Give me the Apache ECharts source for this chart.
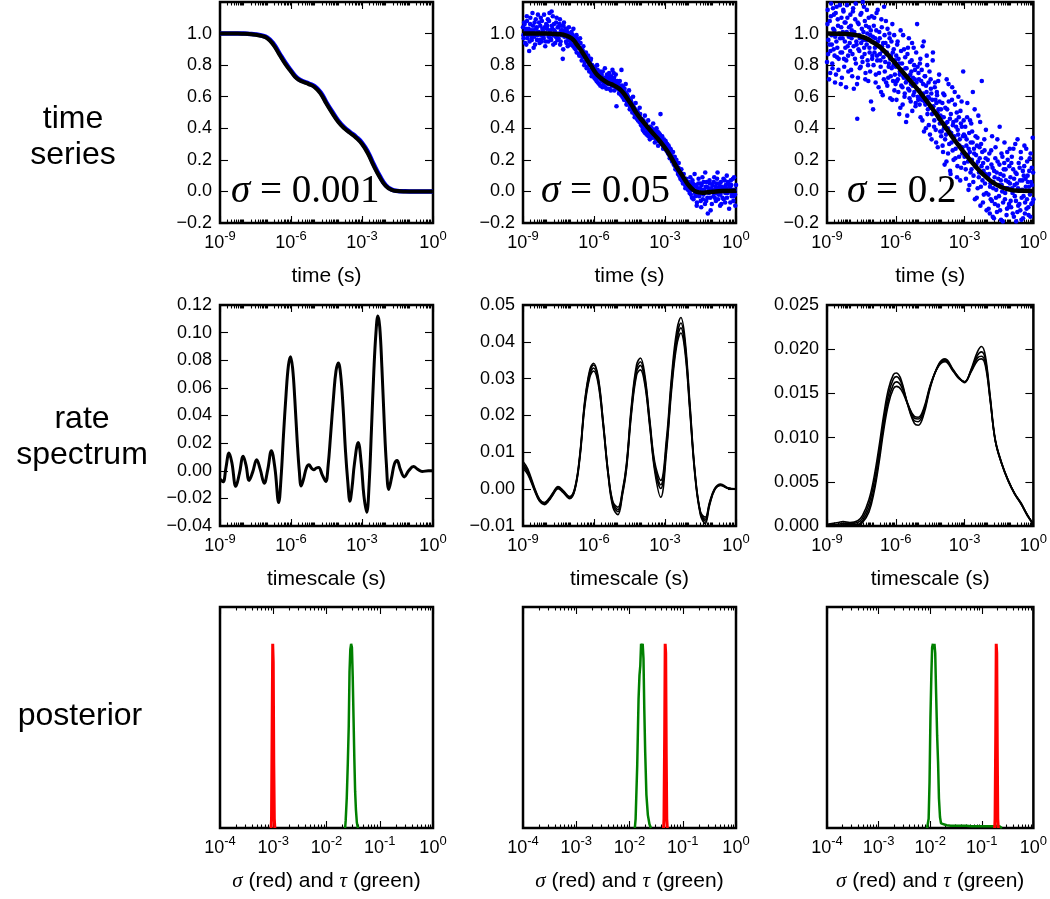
<!DOCTYPE html>
<html><head><meta charset="utf-8">
<script src="https://cdn.jsdelivr.net/npm/echarts@6/dist/echarts.min.js"></script>
<style>html,body{margin:0;padding:0;background:#fff}#c{width:1050px;height:899px}</style>
</head><body><div id="c"></div>
<script>
// ================= DATA =================
const rowLabels = ['time\nseries', 'rate\nspectrum', 'posterior'];
const sigmaLabels = ['0.001', '0.05', '0.2'];
const xNames = ['time (s)', 'timescale (s)', '{i|σ} (red) and {i|τ} (green)'];
const tsMajorExp = [-9, -6, -3, 0];          // labelled decades, rows 1-2
const postMajorExp = [-4, -3, -2, -1, 0];    // labelled decades, row 3
const yTS = {min: -0.2, max: 1.2, step: 0.2, dec: 1, hideAbove: 1.1};
const ySpec = [
  {min: -0.04, max: 0.12, step: 0.02, dec: 2},
  {min: -0.01, max: 0.05, step: 0.01, dec: 2},
  {min: 0, max: 0.025, step: 0.005, dec: 3}
];
const yPost = {min: 0, max: 1.2};

// time series: exponent grid (log10 s) and curves
const tsGrid = [-9,-8.75,-8.5,-8.25,-8,-7.75,-7.5,-7.25,-7,-6.75,-6.5,-6.25,-6,-5.75,-5.5,-5.25,-5,-4.75,-4.5,-4.25,-4,-3.75,-3.5,-3.25,-3,-2.75,-2.5,-2.25,-2,-1.75,-1.5,-1.25,-1,-0.75,-0.5,-0.25,0];
const data001 = [1.0,1.0,1.0,1.0,1.0,0.998,0.995,0.988,0.975,0.938,0.878,0.818,0.766,0.72,0.698,0.684,0.666,0.628,0.563,0.503,0.447,0.405,0.375,0.346,0.308,0.25,0.17,0.098,0.04,0.012,0.003,0.001,0,0,0,0,0];
const fit001 = [1.0,1.0,1.0,1.0,0.999,0.997,0.993,0.985,0.97,0.93,0.87,0.81,0.76,0.715,0.695,0.68,0.66,0.62,0.555,0.495,0.44,0.40,0.37,0.34,0.30,0.24,0.16,0.09,0.035,0.01,0.002,0,0,0,0,0,0];
const fit005 = [[-9,1.0],[-8.5,1.0],[-8,1.0],[-7.5,0.996],[-7.24,0.99],[-6.95,0.97],[-6.75,0.935],[-6.53,0.89],[-6.3,0.835],[-6.1,0.79],[-5.9,0.745],[-5.68,0.714],[-5.45,0.69],[-5.25,0.678],[-5.05,0.662],[-4.82,0.635],[-4.6,0.59],[-4.4,0.545],[-4.2,0.495],[-3.97,0.45],[-3.75,0.41],[-3.55,0.375],[-3.35,0.342],[-3.12,0.30],[-2.9,0.255],[-2.7,0.205],[-2.5,0.152],[-2.27,0.10],[-2.1,0.06],[-1.98,0.036],[-1.85,0.015],[-1.7,0.0],[-1.55,-0.006],[-1.41,-0.008],[-1.2,-0.005],[-0.99,-0.002],[-0.6,0.002],[0,0.004]];
const fit02 = [[-9,1.0],[-8.5,0.999],[-8,0.996],[-7.6,0.985],[-7.26,0.968],[-7.0,0.945],[-6.69,0.915],[-6.26,0.852],[-5.7,0.756],[-5.13,0.661],[-4.56,0.555],[-3.99,0.439],[-3.42,0.322],[-2.85,0.216],[-2.28,0.121],[-1.71,0.051],[-1.14,0.015],[-0.57,0.004],[0,0.003]];

// noisy samples, sigma = 0.05 (log10 t, value)
const pts005a = [[-9.00,1.04],[-8.97,0.97],[-8.93,1.06],[-8.90,1.01],[-8.86,0.93],[-8.83,1.08],[-8.79,0.99],[-8.76,1.03],[-8.72,0.95],[-8.69,1.10],[-8.65,1.02],[-8.62,0.98],[-8.58,1.05],[-8.55,0.91],[-8.51,1.07],[-8.48,1.00],[-8.44,1.03],[-8.41,0.96],[-8.37,1.12],[-8.34,1.01],[-8.30,0.94],[-8.27,1.05],[-8.23,0.99],[-8.20,1.08],[-8.16,1.02],[-8.13,0.97],[-8.09,1.04],[-8.06,0.92],[-8.02,1.06],
[-7.99,1.03],[-7.95,1.09],[-7.92,0.98],[-7.88,1.13],[-7.85,1.01],[-7.81,0.96],[-7.78,1.05],[-7.74,1.11],[-7.71,0.99],[-7.67,1.02],[-7.64,0.94],[-7.60,1.07],[-7.57,1.00],[-7.53,1.04],[-7.50,0.97],[-7.46,1.06],[-7.43,0.93],[-7.39,1.02],[-7.36,0.99],[-7.32,0.84],[-7.29,1.05],[-7.25,0.98],[-7.22,1.01],[-7.18,0.95],[-7.15,1.03],[-7.11,0.92],[-7.08,0.99],[-7.04,0.96],[-7.01,1.00],
[-6.97,1.00],[-6.94,0.93],[-6.90,0.99],[-6.87,1.03],[-6.83,0.91],[-6.80,0.96],[-6.76,0.98],[-6.73,0.88],[-6.69,0.95],[-6.66,0.92],[-6.62,0.86],[-6.59,0.97],[-6.55,0.90],[-6.52,0.83],[-6.48,0.89],[-6.45,0.92],[-6.41,0.80],[-6.38,0.86],[-6.34,0.88],[-6.31,0.78],[-6.27,0.83],[-6.24,0.85],[-6.20,0.76],[-6.17,0.81],[-6.13,0.84],[-6.10,0.73],[-6.06,0.79],[-6.03,0.77],
[-5.99,0.72],[-5.96,0.79],[-5.92,0.75],[-5.89,0.70],[-5.85,0.77],[-5.82,0.73],[-5.78,0.68],[-5.75,0.76],[-5.71,0.71],[-5.68,0.74],[-5.64,0.66],[-5.61,0.72],[-5.57,0.69],[-5.54,0.78],[-5.50,0.70],[-5.47,0.65],[-5.43,0.73],[-5.40,0.68],[-5.36,0.75],[-5.33,0.71],[-5.29,0.64],[-5.26,0.70],[-5.22,0.77],[-5.19,0.67],[-5.15,0.72],[-5.12,0.69],[-5.08,0.74],[-5.05,0.54],[-5.01,0.70],
[-4.98,0.67],[-4.94,0.62],[-4.91,0.70],[-4.87,0.64],[-4.84,0.77],[-4.80,0.60],[-4.77,0.66],[-4.73,0.58],[-4.70,0.63],[-4.66,0.68],[-4.63,0.55],[-4.59,0.61],[-4.56,0.57],[-4.52,0.64],[-4.49,0.52],[-4.45,0.58],[-4.42,0.55],[-4.38,0.50],[-4.35,0.60],[-4.31,0.53],[-4.28,0.47],[-4.24,0.56],[-4.21,0.49],[-4.17,0.51],[-4.14,0.45],[-4.10,0.48],[-4.07,0.53],[-4.03,0.43],
[-3.99,0.46],[-3.96,0.41],[-3.92,0.44],[-3.89,0.38],[-3.85,0.48],[-3.82,0.42],[-3.78,0.36],[-3.75,0.40],[-3.71,0.45],[-3.68,0.37],[-3.64,0.33],[-3.61,0.41],[-3.57,0.39],[-3.54,0.35],[-3.50,0.43],[-3.47,0.36],[-3.43,0.31],[-3.40,0.38],[-3.36,0.40],[-3.33,0.34],[-3.29,0.29],[-3.26,0.37],[-3.22,0.33],[-3.19,0.49],[-3.15,0.31],[-3.12,0.35],[-3.08,0.27],[-3.05,0.33],[-3.01,0.30],
[-2.98,0.32],[-2.94,0.26],[-2.91,0.30],[-2.87,0.24],[-2.84,0.28],[-2.80,0.21],[-2.77,0.27],[-2.73,0.23],[-2.70,0.19],[-2.66,0.25],[-2.63,0.17],[-2.59,0.22],[-2.56,0.14],[-2.52,0.20],[-2.49,0.15],[-2.45,0.11],[-2.42,0.18],[-2.38,0.12],[-2.35,0.08],[-2.31,0.14],[-2.28,0.09],[-2.24,0.05],[-2.21,0.11],[-2.17,0.07],[-2.14,0.02],[-2.10,0.08],[-2.07,0.04],[-2.03,0.01],
[-2.00,0.06],[-1.96,-0.01],[-1.93,0.09],[-1.89,0.03],[-1.86,-0.04],[-1.82,0.05],[-1.79,0.01],[-1.75,0.11],[-1.72,-0.03],[-1.68,0.04],[-1.65,-0.07],[-1.61,0.02],[-1.58,0.08],[-1.54,-0.02],[-1.51,0.05],[-1.47,-0.10],[-1.44,0.01],[-1.40,-0.05],[-1.37,0.06],[-1.33,-0.01],[-1.30,0.12],[-1.26,-0.06],[-1.23,0.03],[-1.19,-0.14],[-1.16,0.00],[-1.12,0.07],[-1.09,-0.04],[-1.05,0.02],[-1.02,-0.08],
[-0.99,0.04],[-0.95,-0.03],[-0.92,0.09],[-0.88,0.01],[-0.85,-0.06],[-0.81,0.05],[-0.78,0.12],[-0.74,-0.02],[-0.71,0.03],[-0.67,-0.09],[-0.64,0.06],[-0.60,0.00],[-0.57,-0.04],[-0.53,0.08],[-0.50,0.02],[-0.46,-0.07],[-0.43,0.04],[-0.39,0.10],[-0.36,-0.01],[-0.32,0.05],[-0.29,-0.11],[-0.25,0.03],[-0.22,0.07],[-0.18,-0.03],[-0.15,0.01],[-0.11,-0.06],[-0.08,0.09],[-0.04,-0.02],[0.00,0.04]];
const pts005b = [[-8.98,0.99],[-8.95,1.07],[-8.91,0.94],[-8.88,1.03],[-8.84,1.11],[-8.81,0.97],[-8.77,1.01],[-8.74,0.89],[-8.70,1.06],[-8.67,1.00],[-8.63,0.96],[-8.60,1.13],[-8.56,1.02],[-8.53,0.98],[-8.49,0.93],[-8.46,1.09],[-8.42,1.04],[-8.39,0.99],[-8.35,1.01],[-8.32,1.07],[-8.28,0.96],[-8.25,1.10],[-8.21,0.95],[-8.18,1.03],[-8.14,0.98],[-8.11,1.12],[-8.07,1.00],[-8.04,0.95],
[-8.00,1.00],[-7.97,1.05],[-7.93,0.95],[-7.90,1.08],[-7.86,1.02],[-7.83,0.97],[-7.79,1.14],[-7.76,1.03],[-7.72,0.93],[-7.69,1.06],[-7.65,1.01],[-7.62,0.98],[-7.58,1.10],[-7.55,0.96],[-7.51,1.04],[-7.48,1.00],[-7.44,1.09],[-7.41,0.95],[-7.37,1.05],[-7.34,1.02],[-7.30,0.90],[-7.27,1.07],[-7.23,0.99],[-7.20,1.03],[-7.16,0.94],[-7.13,1.01],[-7.09,0.97],[-7.06,1.04],[-7.02,0.93],
[-6.99,0.95],[-6.95,1.01],[-6.92,0.97],[-6.88,0.92],[-6.85,0.98],[-6.81,0.95],[-6.78,0.90],[-6.74,0.99],[-6.71,0.93],[-6.67,0.96],[-6.64,0.87],[-6.60,0.91],[-6.57,0.94],[-6.53,0.86],[-6.50,0.90],[-6.46,0.85],[-6.43,0.88],[-6.39,0.82],[-6.36,0.87],[-6.32,0.84],[-6.29,0.79],[-6.25,0.86],[-6.22,0.81],[-6.18,0.77],[-6.15,0.83],[-6.11,0.75],[-6.08,0.80],[-6.04,0.78],[-6.01,0.74],
[-5.98,0.76],[-5.94,0.71],[-5.91,0.74],[-5.87,0.80],[-5.84,0.69],[-5.80,0.72],[-5.77,0.75],[-5.73,0.67],[-5.70,0.73],[-5.66,0.70],[-5.63,0.76],[-5.59,0.68],[-5.56,0.72],[-5.52,0.66],[-5.49,0.71],[-5.45,0.74],[-5.42,0.69],[-5.38,0.72],[-5.35,0.65],[-5.31,0.70],[-5.28,0.73],[-5.24,0.67],[-5.21,0.71],[-5.17,0.75],[-5.14,0.64],[-5.10,0.70],[-5.07,0.66],[-5.03,0.68],
[-4.99,0.65],[-4.96,0.69],[-4.92,0.63],[-4.89,0.66],[-4.85,0.61],[-4.82,0.67],[-4.78,0.64],[-4.75,0.59],[-4.71,0.65],[-4.68,0.60],[-4.64,0.62],[-4.61,0.57],[-4.57,0.60],[-4.54,0.55],[-4.50,0.59],[-4.47,0.53],[-4.43,0.57],[-4.40,0.54],[-4.36,0.51],[-4.33,0.55],[-4.29,0.49],[-4.26,0.52],[-4.22,0.50],[-4.19,0.46],[-4.15,0.50],[-4.12,0.47],[-4.08,0.44],[-4.05,0.49],[-4.01,0.42],
[-3.98,0.43],[-3.94,0.39],[-3.91,0.45],[-3.87,0.41],[-3.84,0.37],[-3.80,0.43],[-3.77,0.40],[-3.73,0.38],[-3.70,0.35],[-3.66,0.41],[-3.63,0.38],[-3.59,0.36],[-3.56,0.40],[-3.52,0.34],[-3.49,0.37],[-3.45,0.39],[-3.42,0.35],[-3.38,0.33],[-3.35,0.36],[-3.31,0.38],[-3.28,0.32],[-3.24,0.34],[-3.21,0.36],[-3.17,0.30],[-3.14,0.34],[-3.10,0.31],[-3.07,0.29],[-3.03,0.32],
[-2.99,0.28],[-2.96,0.31],[-2.92,0.27],[-2.89,0.25],[-2.85,0.29],[-2.82,0.23],[-2.78,0.25],[-2.75,0.26],[-2.71,0.20],[-2.68,0.22],[-2.64,0.19],[-2.61,0.21],[-2.57,0.16],[-2.54,0.18],[-2.50,0.17],[-2.47,0.13],[-2.43,0.15],[-2.40,0.10],[-2.36,0.13],[-2.33,0.11],[-2.29,0.07],[-2.26,0.10],[-2.22,0.06],[-2.19,0.08],[-2.15,0.04],[-2.12,0.06],[-2.08,0.03],[-2.05,0.05],[-2.01,0.02],
[-1.98,0.02],[-1.94,0.05],[-1.91,-0.02],[-1.87,0.01],[-1.84,0.07],[-1.80,-0.05],[-1.77,0.03],[-1.73,-0.01],[-1.70,0.04],[-1.66,-0.09],[-1.63,0.00],[-1.59,0.05],[-1.56,-0.03],[-1.52,0.02],[-1.49,-0.06],[-1.45,0.04],[-1.42,0.09],[-1.38,-0.02],[-1.35,0.01],[-1.31,-0.08],[-1.28,0.03],[-1.24,0.06],[-1.21,-0.04],[-1.17,0.02],[-1.14,-0.01],[-1.10,0.05],[-1.07,-0.12],[-1.03,0.01],
[-0.97,0.00],[-0.94,0.06],[-0.90,-0.04],[-0.87,0.03],[-0.83,-0.01],[-0.80,0.08],[-0.76,-0.05],[-0.73,0.02],[-0.69,0.05],[-0.66,-0.02],[-0.62,-0.08],[-0.59,0.03],[-0.55,0.01],[-0.52,-0.05],[-0.48,0.07],[-0.45,-0.01],[-0.41,0.02],[-0.38,-0.04],[-0.34,0.06],[-0.31,0.00],[-0.27,0.03],[-0.24,-0.07],[-0.20,0.04],[-0.17,-0.02],[-0.13,0.08],[-0.10,-0.03],[-0.06,0.01],[-0.03,-0.09]];

// noisy samples, sigma = 0.2 (log10 t, value)
const pts02a = [[-9.00,0.82],[-8.97,1.15],[-8.94,0.96],[-8.91,0.71],[-8.88,1.08],[-8.85,0.89],[-8.82,1.19],[-8.79,0.93],[-8.76,0.78],[-8.73,1.03],[-8.70,1.12],[-8.67,0.86],[-8.64,0.98],[-8.61,0.74],[-8.58,1.17],[-8.55,0.91],[-8.52,1.05],[-8.49,0.84],[-8.46,1.25],[-8.43,0.97],[-8.40,0.68],[-8.37,1.10],[-8.34,0.88],[-8.31,1.01],[-8.28,1.14],[-8.25,0.79],[-8.22,0.95],[-8.19,1.07],[-8.16,0.83],[-8.13,1.18],[-8.10,0.92],[-8.07,0.76],[-8.04,1.04],
[-8.01,0.94],[-7.98,1.12],[-7.95,0.77],[-7.92,1.02],[-7.89,0.87],[-7.86,1.16],[-7.83,0.65],[-7.80,0.99],[-7.77,1.09],[-7.74,0.81],[-7.71,0.93],[-7.68,0.46],[-7.65,0.72],[-7.62,1.06],[-7.59,0.89],[-7.56,0.97],[-7.53,0.79],[-7.50,1.13],[-7.47,0.85],[-7.44,1.20],[-7.41,1.01],[-7.38,0.91],[-7.35,1.08],[-7.32,0.75],[-7.29,0.96],[-7.26,1.15],[-7.23,0.83],[-7.20,0.70],[-7.17,1.04],[-7.14,0.88],[-7.11,0.99],[-7.08,0.57],[-7.05,1.11],[-7.02,0.86],
[-6.99,0.52],[-6.96,1.05],[-6.93,0.88],[-6.90,0.97],[-6.87,0.74],[-6.84,1.13],[-6.81,0.83],[-6.78,0.95],[-6.75,0.66],[-6.72,1.01],[-6.69,0.87],[-6.66,0.79],[-6.63,1.09],[-6.60,0.92],[-6.57,0.61],[-6.54,0.85],[-6.51,1.17],[-6.48,0.76],[-6.45,0.94],[-6.42,0.69],[-6.39,0.88],[-6.36,1.03],[-6.33,0.72],[-6.30,0.81],[-6.27,0.97],[-6.24,0.59],[-6.21,0.86],[-6.18,0.78],[-6.15,1.06],[-6.12,0.70],[-6.09,0.90],[-6.06,0.64],[-6.03,0.83],
[-6.00,0.79],[-5.97,0.58],[-5.94,0.93],[-5.91,0.71],[-5.88,0.84],[-5.85,0.49],[-5.82,0.76],[-5.79,1.02],[-5.76,0.67],[-5.73,0.81],[-5.70,0.55],[-5.67,0.73],[-5.64,0.90],[-5.61,0.62],[-5.58,0.78],[-5.55,0.44],[-5.52,0.70],[-5.49,0.87],[-5.46,0.65],[-5.43,0.97],[-5.40,0.59],[-5.37,0.74],[-5.34,0.68],[-5.31,0.83],[-5.28,0.51],[-5.25,0.72],[-5.22,0.91],[-5.19,0.63],[-5.16,0.77],[-5.13,0.56],[-5.10,0.69],[-5.07,1.06],[-5.04,0.60],[-5.01,0.75],
[-4.98,0.64],[-4.95,0.81],[-4.92,0.47],[-4.89,0.70],[-4.86,0.58],[-4.83,0.92],[-4.80,0.62],[-4.77,0.38],[-4.74,0.73],[-4.71,0.55],[-4.68,0.67],[-4.65,0.86],[-4.62,0.49],[-4.59,0.60],[-4.56,0.42],[-4.53,0.76],[-4.50,0.53],[-4.47,0.65],[-4.44,0.33],[-4.41,0.58],[-4.38,0.88],[-4.35,0.50],[-4.32,0.45],[-4.29,0.69],[-4.26,0.39],[-4.23,0.56],[-4.20,0.61],[-4.17,0.28],[-4.14,0.52],[-4.11,0.74],[-4.08,0.43],[-4.05,0.48],[-4.02,0.35],
[-3.99,0.47],[-3.96,0.29],[-3.93,0.62],[-3.90,0.40],[-3.87,0.17],[-3.84,0.53],[-3.81,0.36],[-3.78,0.71],[-3.75,0.44],[-3.72,0.24],[-3.69,0.57],[-3.66,0.38],[-3.63,0.13],[-3.60,0.49],[-3.57,0.31],[-3.54,0.66],[-3.51,0.42],[-3.48,0.20],[-3.45,0.35],[-3.42,0.55],[-3.39,0.27],[-3.36,0.45],[-3.33,0.09],[-3.30,0.39],[-3.27,0.60],[-3.24,0.22],[-3.21,0.33],[-3.18,0.51],[-3.15,0.15],[-3.12,0.41],[-3.09,0.28],[-3.06,0.76],[-3.03,0.36],
[-3.00,0.22],[-2.97,0.41],[-2.94,0.08],[-2.91,0.33],[-2.88,0.56],[-2.85,0.19],[-2.82,0.27],[-2.79,0.04],[-2.76,0.45],[-2.73,0.31],[-2.70,0.14],[-2.67,0.38],[-2.64,0.63],[-2.61,0.10],[-2.58,0.24],[-2.55,-0.05],[-2.52,0.35],[-2.49,0.17],[-2.46,0.29],[-2.43,0.02],[-2.40,0.48],[-2.37,0.12],[-2.34,0.21],[-2.31,-0.09],[-2.28,0.30],[-2.25,0.70],[-2.22,0.07],[-2.19,0.18],[-2.16,-0.02],[-2.13,0.26],[-2.10,0.11],[-2.07,0.39],[-2.04,-0.12],[-2.01,0.15],
[-1.98,0.09],[-1.95,-0.11],[-1.92,0.24],[-1.89,0.03],[-1.86,-0.05],[-1.83,0.17],[-1.80,0.35],[-1.77,-0.16],[-1.74,0.06],[-1.71,0.13],[-1.68,-0.08],[-1.65,0.28],[-1.62,0.01],[-1.59,-0.13],[-1.56,0.19],[-1.53,0.08],[-1.50,-0.03],[-1.47,0.41],[-1.44,0.11],[-1.41,-0.18],[-1.38,0.04],[-1.35,0.22],[-1.32,-0.07],[-1.29,0.14],[-1.26,0.31],[-1.23,-0.01],[-1.20,0.07],[-1.17,-0.15],[-1.14,0.25],[-1.11,0.02],[-1.08,-0.10],[-1.05,0.16],[-1.02,0.05],
[-0.99,-0.06],[-0.96,0.18],[-0.93,0.02],[-0.90,-0.14],[-0.87,0.27],[-0.84,0.08],[-0.81,-0.03],[-0.78,0.12],[-0.75,-0.19],[-0.72,0.05],[-0.69,0.33],[-0.66,-0.09],[-0.63,0.01],[-0.60,0.15],[-0.57,-0.12],[-0.54,0.21],[-0.51,-0.04],[-0.48,0.07],[-0.45,-0.17],[-0.42,0.10],[-0.39,0.29],[-0.36,-0.07],[-0.33,0.03],[-0.30,-0.11],[-0.27,0.19],[-0.24,0.06],[-0.21,-0.15],[-0.18,0.13],[-0.15,-0.02],[-0.12,0.24],[-0.09,-0.08],[-0.06,0.04],[-0.03,0.34],[0.00,-0.05]];
const pts02b = [[-8.98,1.06],[-8.95,0.87],[-8.92,1.22],[-8.89,0.93],[-8.86,0.75],[-8.83,1.11],[-8.80,0.99],[-8.77,0.81],[-8.74,1.16],[-8.71,0.90],[-8.68,1.02],[-8.65,0.69],[-8.62,1.13],[-8.59,0.95],[-8.56,0.85],[-8.53,1.09],[-8.50,0.77],[-8.47,1.00],[-8.44,1.18],[-8.41,0.88],[-8.38,1.04],[-8.35,0.72],[-8.32,0.97],[-8.29,1.15],[-8.26,0.84],[-8.23,1.07],[-8.20,0.91],[-8.17,0.66],[-8.14,1.01],[-8.11,1.10],[-8.08,0.86],[-8.05,0.98],[-8.02,1.21],
[-7.99,0.89],[-7.96,1.05],[-7.93,0.97],[-7.90,0.73],[-7.87,1.14],[-7.84,0.92],[-7.81,1.01],[-7.78,0.84],[-7.75,1.19],[-7.72,0.95],[-7.69,0.68],[-7.66,1.07],[-7.63,0.90],[-7.60,0.99],[-7.57,0.78],[-7.54,1.12],[-7.51,0.94],[-7.48,1.03],[-7.45,0.82],[-7.42,0.96],[-7.39,1.17],[-7.36,0.87],[-7.33,0.71],[-7.30,1.05],[-7.27,0.93],[-7.24,1.00],[-7.21,0.80],[-7.18,1.10],[-7.15,0.91],[-7.12,0.76],[-7.09,1.02],[-7.06,0.95],[-7.03,0.84],
[-7.00,0.98],[-6.97,0.80],[-6.94,1.10],[-6.91,0.91],[-6.88,0.69],[-6.85,1.02],[-6.82,0.86],[-6.79,1.15],[-6.76,0.92],[-6.73,0.75],[-6.70,0.97],[-6.67,0.83],[-6.64,0.63],[-6.61,1.04],[-6.58,0.89],[-6.55,0.94],[-6.52,0.71],[-6.49,0.99],[-6.46,0.82],[-6.43,1.08],[-6.40,0.87],[-6.37,0.67],[-6.34,0.92],[-6.31,0.79],[-6.28,1.00],[-6.25,0.84],[-6.22,0.73],[-6.19,0.95],[-6.16,0.58],[-6.13,0.88],[-6.10,0.80],[-6.07,0.99],[-6.04,0.74],[-6.01,0.68],
[-5.98,0.86],[-5.95,0.70],[-5.92,0.95],[-5.89,0.63],[-5.86,0.81],[-5.83,0.74],[-5.80,0.53],[-5.77,0.89],[-5.74,0.77],[-5.71,0.66],[-5.68,0.99],[-5.65,0.72],[-5.62,0.60],[-5.59,0.85],[-5.56,0.69],[-5.53,0.78],[-5.50,0.48],[-5.47,0.91],[-5.44,0.73],[-5.41,0.64],[-5.38,0.82],[-5.35,0.57],[-5.32,0.76],[-5.29,0.94],[-5.26,0.67],[-5.23,0.61],[-5.20,0.80],[-5.17,0.71],[-5.14,0.54],[-5.11,0.88],[-5.08,0.65],[-5.05,0.79],[-5.02,0.58],
[-4.99,0.71],[-4.96,0.55],[-4.93,0.84],[-4.90,0.60],[-4.87,0.77],[-4.84,0.45],[-4.81,0.68],[-4.78,0.95],[-4.75,0.57],[-4.72,0.73],[-4.69,0.40],[-4.66,0.63],[-4.63,0.80],[-4.60,0.52],[-4.57,0.69],[-4.54,0.59],[-4.51,0.36],[-4.48,0.71],[-4.45,0.62],[-4.42,0.49],[-4.39,0.83],[-4.36,0.54],[-4.33,0.41],[-4.30,0.66],[-4.27,0.58],[-4.24,0.31],[-4.21,0.63],[-4.18,0.50],[-4.15,0.70],[-4.12,0.46],[-4.09,0.57],[-4.06,0.38],[-4.03,0.52],
[-4.00,0.38],[-3.97,0.56],[-3.94,0.25],[-3.91,0.47],[-3.88,0.61],[-3.85,0.33],[-3.82,0.43],[-3.79,0.19],[-3.76,0.52],[-3.73,0.40],[-3.70,0.68],[-3.67,0.30],[-3.64,0.46],[-3.61,0.11],[-3.58,0.37],[-3.55,0.58],[-3.52,0.26],[-3.49,0.44],[-3.46,0.34],[-3.43,0.63],[-3.40,0.21],[-3.37,0.41],[-3.34,0.50],[-3.31,0.16],[-3.28,0.36],[-3.25,0.47],[-3.22,0.29],[-3.19,0.07],[-3.16,0.43],[-3.13,0.57],[-3.10,0.24],[-3.07,0.35],[-3.04,0.45],[-3.01,0.18],
[-2.98,0.35],[-2.95,0.14],[-2.92,0.29],[-2.89,0.47],[-2.86,0.23],[-2.83,0.01],[-2.80,0.37],[-2.77,0.25],[-2.74,0.12],[-2.71,0.43],[-2.68,0.20],[-2.65,0.31],[-2.62,0.06],[-2.59,0.27],[-2.56,0.52],[-2.53,0.16],[-2.50,0.23],[-2.47,-0.04],[-2.44,0.34],[-2.41,0.19],[-2.38,0.09],[-2.35,0.28],[-2.32,0.44],[-2.29,0.03],[-2.26,0.16],[-2.23,0.25],[-2.20,-0.07],[-2.17,0.13],[-2.14,0.33],[-2.11,0.05],[-2.08,0.21],[-2.05,-0.01],[-2.02,0.10],
[-1.99,0.20],[-1.96,-0.02],[-1.93,0.11],[-1.90,-0.14],[-1.87,0.05],[-1.84,0.26],[-1.81,-0.06],[-1.78,0.15],[-1.75,0.02],[-1.72,-0.17],[-1.69,0.09],[-1.66,0.21],[-1.63,-0.04],[-1.60,0.12],[-1.57,0.33],[-1.54,-0.09],[-1.51,0.04],[-1.48,0.17],[-1.45,-0.12],[-1.42,0.07],[-1.39,0.24],[-1.36,0.00],[-1.33,-0.19],[-1.30,0.10],[-1.27,0.18],[-1.24,-0.05],[-1.21,0.14],[-1.18,0.02],[-1.15,-0.11],[-1.12,0.20],[-1.09,0.06],[-1.06,-0.08],[-1.03,0.27],
[-1.00,0.09],[-0.97,-0.10],[-0.94,0.22],[-0.91,-0.01],[-0.88,0.14],[-0.85,-0.16],[-0.82,0.04],[-0.79,0.30],[-0.76,-0.06],[-0.73,0.11],[-0.70,-0.13],[-0.67,0.02],[-0.64,0.18],[-0.61,-0.08],[-0.58,0.07],[-0.55,0.25],[-0.52,-0.18],[-0.49,0.01],[-0.46,0.13],[-0.43,-0.03],[-0.40,0.16],[-0.37,-0.14],[-0.34,0.08],[-0.31,0.27],[-0.28,-0.05],[-0.25,0.10],[-0.22,-0.10],[-0.19,0.03],[-0.16,0.21],[-0.13,-0.16],[-0.10,0.06],[-0.07,0.15],[-0.04,-0.07],[-0.01,0.12]];

// rate spectra
const spec001 = [[-9.0,-0.006],[-8.87,-0.008],[-8.75,0.002],[-8.62,0.0128],[-8.5,0.006],[-8.33,-0.0113],[-8.18,-0.002],[-8.02,0.0105],[-7.9,0.004],[-7.77,-0.007],[-7.62,-0.001],[-7.45,0.008],[-7.3,0.001],[-7.13,-0.009],[-6.98,0.001],[-6.83,0.0145],[-6.68,0.002],[-6.52,-0.023],[-6.42,-0.005],[-6.32,0.025],[-6.21,0.055],[-6.11,0.076],[-6.02,0.0826],[-5.93,0.074],[-5.84,0.052],[-5.74,0.022],[-5.65,0.0],[-5.57,-0.011],[-5.47,-0.006],[-5.35,0.002],[-5.24,0.0043],[-5.14,0.002],[-5.04,0.0007],[-4.93,0.002],[-4.83,0.0024],[-4.68,-0.003],[-4.53,-0.0077],[-4.43,0.004],[-4.33,0.025],[-4.2,0.054],[-4.1,0.072],[-4.0,0.078],[-3.9,0.069],[-3.8,0.046],[-3.7,0.015],[-3.6,-0.008],[-3.51,-0.022],[-3.42,-0.012],[-3.32,0.005],[-3.16,0.0205],[-3.03,0.005],[-2.92,-0.018],[-2.8,-0.030],[-2.7,-0.01],[-2.6,0.03],[-2.5,0.072],[-2.41,0.1],[-2.33,0.112],[-2.25,0.104],[-2.16,0.075],[-2.06,0.035],[-1.97,0.005],[-1.87,-0.0135],[-1.75,-0.005],[-1.63,0.005],[-1.52,0.0075],[-1.38,0.001],[-1.21,-0.0045],[-1.03,0.0],[-0.82,0.003],[-0.64,0.001],[-0.46,-0.0005],[-0.2,0.0],[0,0.0]];
const spec005X = [-9,-8.8,-8.5,-8.3,-8.1,-7.9,-7.73,-7.52,-7.31,-7.03,-6.81,-6.6,-6.39,-6.18,-6.02,-5.82,-5.61,-5.4,-5.2,-4.99,-4.8,-4.63,-4.42,-4.2,-4.04,-3.85,-3.64,-3.43,-3.18,-2.94,-2.72,-2.51,-2.33,-2.15,-1.95,-1.73,-1.5,-1.3,-1.12,-0.9,-0.65,-0.35,0];
const spec005 = [
 [0.0075,0.0055,0.0002,-0.0027,-0.0036,-0.0025,-0.0009,0.0007,-0.0003,-0.002,0.0004,0.0094,0.0241,0.0324,0.0342,0.0304,0.0183,0.0046,-0.0035,-0.0049,-0.0004,0.0068,0.0226,0.0338,0.0356,0.0309,0.0186,0.0072,0.0024,0.0135,0.0308,0.0428,0.0466,0.0405,0.0235,0.0045,-0.0062,-0.0076,-0.0036,0.0002,0.0014,0.0004,0.0001],
 [0.0068,0.0049,-0.0001,-0.0029,-0.0038,-0.0027,-0.0011,0.0005,-0.0005,-0.0022,0.0001,0.009,0.0236,0.0318,0.0337,0.0299,0.018,0.0044,-0.0038,-0.0055,-0.0008,0.0063,0.0218,0.0328,0.0346,0.0300,0.018,0.0064,0.0012,0.0121,0.0294,0.0413,0.0451,0.0392,0.0226,0.0042,-0.0064,-0.0082,-0.0039,0.0,0.0012,0.0003,0.0],
 [0.0062,0.0045,-0.0004,-0.0031,-0.004,-0.0029,-0.0013,0.0003,-0.0007,-0.0024,-0.0001,0.0086,0.023,0.031,0.0329,0.0292,0.0175,0.004,-0.0043,-0.0061,-0.0012,0.0058,0.0211,0.0319,0.0336,0.0292,0.0174,0.0056,0.0002,0.011,0.0282,0.0401,0.0438,0.0381,0.0219,0.0038,-0.0067,-0.0087,-0.0042,-0.0001,0.0011,0.0003,0.0],
 [0.0056,0.004,-0.0006,-0.0033,-0.0042,-0.0031,-0.0015,0.0001,-0.0009,-0.0026,-0.0003,0.0082,0.0224,0.0303,0.0321,0.0285,0.0169,0.0036,-0.0049,-0.0069,-0.0017,0.0052,0.0203,0.031,0.0324,0.0283,0.0167,0.0047,-0.0022,0.0099,0.027,0.0388,0.0424,0.037,0.0211,0.0033,-0.0071,-0.0093,-0.0045,-0.0002,0.001,0.0002,0.0]
];
const spec02X = [-9,-8.5,-8.3,-8.0,-7.66,-7.45,-7.17,-6.95,-6.74,-6.53,-6.32,-6.11,-5.97,-5.76,-5.47,-5.19,-5.02,-4.77,-4.49,-4.13,-3.85,-3.5,-3.22,-3.0,-2.72,-2.44,-2.26,-2.09,-1.88,-1.66,-1.38,-1.1,-0.82,-0.54,-0.25,0];
const spec02 = [
 [0.0002,0.0004,0.0005,0.0004,0.0006,0.0012,0.003,0.0055,0.0088,0.0125,0.0155,0.0171,0.0173,0.0165,0.0136,0.0116,0.0114,0.0127,0.0157,0.0183,0.0189,0.0177,0.0167,0.0162,0.0177,0.0197,0.0203,0.0192,0.0146,0.0098,0.0071,0.0052,0.0037,0.0026,0.0012,0.0002],
 [0.0001,0.0002,0.0003,0.0003,0.0004,0.0009,0.0025,0.0049,0.0082,0.0119,0.0149,0.0166,0.0169,0.0162,0.0137,0.0119,0.0118,0.013,0.0158,0.0182,0.0188,0.0176,0.0167,0.0163,0.0176,0.0193,0.0197,0.0188,0.0144,0.0097,0.0071,0.0052,0.0037,0.0026,0.0012,0.0002],
 [0.0001,0.0001,0.0001,0.0002,0.0002,0.0006,0.002,0.0042,0.0075,0.0113,0.0143,0.0160,0.0163,0.0158,0.0138,0.0122,0.0121,0.0132,0.0159,0.0182,0.0187,0.0176,0.0167,0.0163,0.0175,0.019,0.0192,0.0184,0.0142,0.0096,0.007,0.0051,0.0037,0.0025,0.0012,0.0002],
 [0.0,0.0,0.0001,0.0001,0.0001,0.0004,0.0016,0.0038,0.007,0.0108,0.0138,0.0155,0.0158,0.0154,0.0137,0.0124,0.0123,0.0134,0.016,0.0181,0.0186,0.0175,0.0166,0.0163,0.0174,0.0187,0.0189,0.0181,0.0141,0.0096,0.007,0.0051,0.0036,0.0025,0.0011,0.0002]
];

// posterior histograms (log10 value, normalised count)
const sigmaHist = [
 [[-3.04,0],[-3.025,0.05],[-3.015,0.6],[-3.005,1.0],[-2.995,0.9],[-2.985,0.35],[-2.975,0.05],[-2.965,0]],
 [[-1.36,0],[-1.345,0.05],[-1.335,0.5],[-1.325,1.0],[-1.315,0.95],[-1.305,0.4],[-1.295,0.05],[-1.285,0]],
 [[-0.75,0],[-0.735,0.05],[-0.725,0.5],[-0.715,1.0],[-0.705,0.95],[-0.695,0.45],[-0.685,0.05],[-0.675,0]]
];
const tauHist = [
 [[-1.65,0],[-1.63,0.04],[-1.61,0.16],[-1.59,0.35],[-1.575,0.55],[-1.56,0.85],[-1.545,0.97],[-1.53,1.0],[-1.515,0.98],[-1.5,0.82],[-1.485,0.6],[-1.47,0.38],[-1.455,0.2],[-1.44,0.1],[-1.42,0.03],[-1.40,0]],
 [[-1.9,0],[-1.87,0.05],[-1.84,0.34],[-1.82,0.7],[-1.805,0.83],[-1.79,0.88],[-1.775,1.0],[-1.76,0.98],[-1.745,1.0],[-1.73,0.92],[-1.715,0.65],[-1.695,0.41],[-1.67,0.18],[-1.64,0.07],[-1.61,0.02],[-1.585,0]],
 [[-2.06,0],[-2.04,0.01],[-2.02,0.05],[-2.005,0.25],[-1.985,0.6],[-1.97,0.83],[-1.955,0.98],[-1.94,1.0],[-1.925,0.97],[-1.91,1.0],[-1.895,0.95],[-1.875,0.73],[-1.855,0.5],[-1.84,0.36],[-1.82,0.16],[-1.8,0.06],[-1.78,0.025],[-1.76,0.015],[-1.6,0.012],[-1.4,0.012],[-1.2,0.01],[-1.0,0.01],[-0.8,0.01],[-0.7,0.012],[-0.65,0.008],[-0.62,0.004],[-0.6,0]]
];

// ================= LAYOUT / STYLE =================
const FONT = 'Liberation Sans';
const SERIF = 'Liberation Serif';
const COL_LEFT = [220, 523, 827];
const ROW_TOP = [2, 305, 607];
const PW = 213, PH = 221;
const BLUE = '#0000ff', RED = '#ff0000', GREEN = '#008000';

const P = e => Math.pow(10, e);
const pairs = arr => arr.map(p => [P(p[0]), p[1]]);
const zip = (xs, ys) => xs.map((x, i) => [P(x), ys[i]]);

const grids = [], xAxes = [], yAxes = [], series = [];

function safeVal(e, lo, hi) {
  let v = P(e);
  if (e === lo) v *= 1.000001;
  if (e === hi) v *= 0.999999;
  return v;
}

function addPanel(r, c, yc, seriesList) {
  const gi = grids.length;
  grids.push({left: COL_LEFT[c], top: ROW_TOP[r], width: PW, height: PH, show: true,
    borderColor: '#000', borderWidth: 2.5, backgroundColor: 'rgba(0,0,0,0)'});
  const lo = r < 2 ? -9 : -4, hi = 0;
  const majorExp = r < 2 ? tsMajorExp : postMajorExp;
  const majors = majorExp.map(e => safeVal(e, lo, hi));
  const minors = [];
  for (let k = lo; k < hi; k++) for (let m = 2; m <= 9; m++) minors.push(m * P(k));
  if (r < 2) for (let k = lo; k < hi; k++) if (!majorExp.includes(k)) minors.push(safeVal(k, lo, hi));
  const base = {type: 'log', logBase: 10, gridIndex: gi, min: P(lo), max: P(hi),
    axisLine: {show: false, onZero: false}, splitLine: {show: false}};
  const tick = (vals, len) => ({show: true, inside: true, length: len, customValues: vals,
    lineStyle: {color: '#000', width: 1.1}});
  const xi = xAxes.length;
  xAxes.push(Object.assign({}, base, {position: 'bottom', axisTick: tick(majors, 7),
    axisLabel: {show: true, customValues: majors, margin: 7,
      formatter: v => '{b|10}{s|' + Math.round(Math.log10(v)) + '}',
      rich: {b: {fontSize: 18, fontFamily: FONT, color: '#000', verticalAlign: 'bottom'},
             s: {fontSize: 13, fontFamily: FONT, color: '#000', verticalAlign: 'top', padding: [0, 0, 9, 0]}}},
    name: xNames[r], nameLocation: 'middle', nameGap: 43,
    nameTextStyle: {fontSize: 21, fontFamily: FONT, color: '#000',
      rich: {i: {fontSize: 21, fontFamily: SERIF, fontStyle: 'italic', color: '#000'}}}}));
  xAxes.push(Object.assign({}, base, {position: 'bottom', axisTick: tick(minors, 3.5), axisLabel: {show: false}}));
  xAxes.push(Object.assign({}, base, {position: 'top', axisTick: tick(majors, 7), axisLabel: {show: false}}));
  xAxes.push(Object.assign({}, base, {position: 'top', axisTick: tick(minors, 3.5), axisLabel: {show: false}}));

  const yi = yAxes.length;
  const ybase = {type: 'value', gridIndex: gi, min: yc.min, max: yc.max,
    axisLine: {show: false, onZero: false}, splitLine: {show: false}};
  if (yc.step) {
    ybase.interval = yc.step;
    const fmt = v => {
      if (yc.hideAbove !== undefined && v > yc.hideAbove) return '';
      if (Math.abs(v) < 1e-12) v = 0;
      return (v < 0 ? '\u2212' : '') + Math.abs(v).toFixed(yc.dec);
    };
    yAxes.push(Object.assign({}, ybase, {position: 'left',
      axisTick: {show: true, inside: true, length: 8, lineStyle: {color: '#000', width: 1.1}},
      axisLabel: {show: true, margin: 8, fontSize: 18, fontFamily: FONT, color: '#000', formatter: fmt}}));
    yAxes.push(Object.assign({}, ybase, {position: 'right',
      axisTick: {show: true, inside: true, length: 8, lineStyle: {color: '#000', width: 1.1}},
      axisLabel: {show: false}}));
  } else {
    yAxes.push(Object.assign({}, ybase, {position: 'left', axisTick: {show: false}, axisLabel: {show: false}}));
  }
  seriesList.forEach(s => series.push(Object.assign({xAxisIndex: xi, yAxisIndex: yi,
    animation: false, silent: true}, s)));
}

const lineS = (data, color, width, extra) => Object.assign({type: 'line', data, showSymbol: false,
  symbol: 'none', lineStyle: {color, width}, itemStyle: {color}}, extra || {});
const scatterS = data => ({type: 'scatter', data, symbol: 'circle', symbolSize: 4.6,
  itemStyle: {color: BLUE, opacity: 1}, z: 2});

// Row 1: time series
addPanel(0, 0, yTS, [
  lineS(zip(tsGrid, data001), BLUE, 4.5, {smooth: true, z: 2}),
  lineS(zip(tsGrid, fit001), '#000', 4, {smooth: true, z: 3})
]);
addPanel(0, 1, yTS, [scatterS(pairs(pts005a)), scatterS(pairs(pts005b)),
  lineS(pairs(fit005), '#000', 4.5, {smooth: true, z: 3})]);
addPanel(0, 2, yTS, [scatterS(pairs(pts02a)), scatterS(pairs(pts02b)),
  lineS(pairs(fit02), '#000', 4.5, {smooth: true, z: 3})]);
// Row 2: rate spectra
addPanel(1, 0, ySpec[0], [lineS(pairs(spec001), '#000', 3, {smooth: 0.4})]);
addPanel(1, 1, ySpec[1], spec005.map(ys => lineS(zip(spec005X, ys), '#000', 1.6, {smooth: 0.4})));
addPanel(1, 2, ySpec[2], spec02.map(ys => lineS(zip(spec02X, ys), '#000', 1.6, {smooth: 0.4})));
// Row 3: posteriors
for (let c = 0; c < 3; c++) {
  addPanel(2, c, yPost, [
    lineS(pairs(tauHist[c]), GREEN, 2.5, {step: 'middle'}),
    lineS(pairs(sigmaHist[c]), RED, 3, {step: 'middle'})
  ]);
}

// Text annotations
const graphic = [];
const rowLabelPos = [[73, 137], [82, 437], [80, 716]];
rowLabels.forEach((t, i) => graphic.push({type: 'text', x: rowLabelPos[i][0], y: rowLabelPos[i][1], silent: true,
  style: {text: t, fontSize: 32, fontFamily: FONT, fill: '#000', align: 'center', verticalAlign: 'middle', lineHeight: 36}}));
const sigmaPos = [[231, 192], [541, 192], [847, 192]];
sigmaLabels.forEach((t, i) => graphic.push({type: 'text', x: sigmaPos[i][0], y: sigmaPos[i][1], silent: true, z: 10,
  style: {text: '{i|σ} = ' + t, fontSize: 39, fontFamily: SERIF, fill: '#000', align: 'left', verticalAlign: 'middle',
    rich: {i: {fontSize: 39, fontFamily: SERIF, fontStyle: 'italic', fill: '#000'}}}}));

const chart = echarts.init(document.getElementById('c'), null, {renderer: 'canvas', width: 1050, height: 899});
chart.setOption({animation: false, backgroundColor: '#fff', grid: grids, xAxis: xAxes, yAxis: yAxes, series, graphic});
</script></body></html>
